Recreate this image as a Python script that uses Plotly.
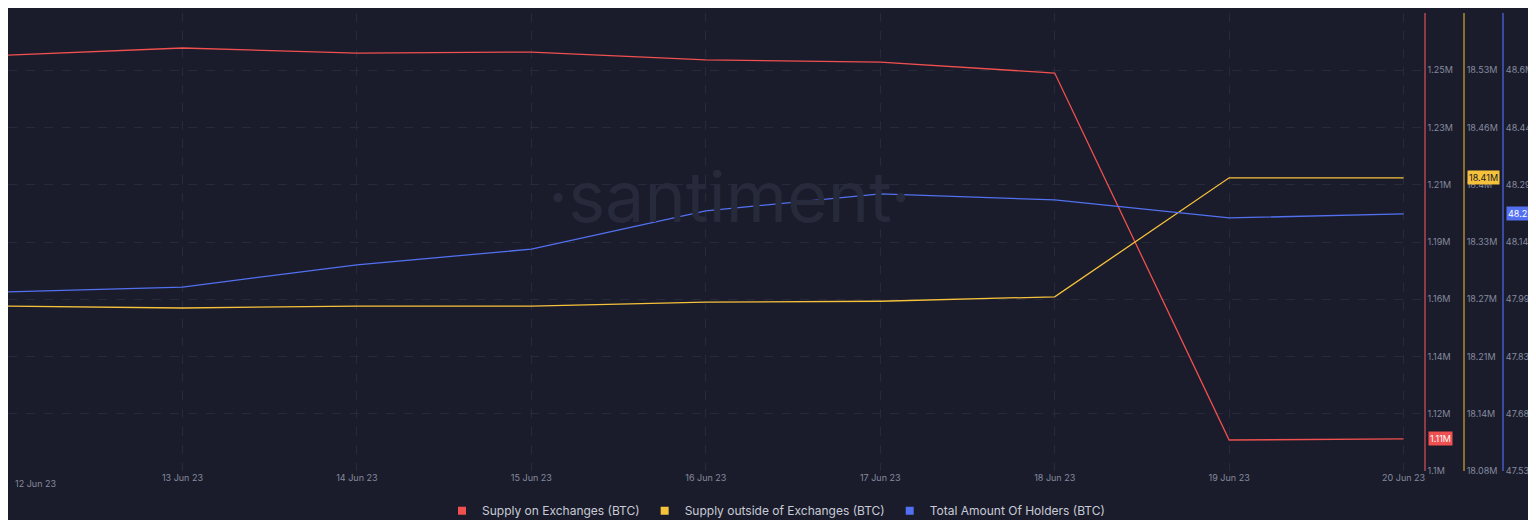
import plotly.graph_objects as go

dates = ["2023-06-12", "2023-06-13", "2023-06-14", "2023-06-15", "2023-06-16",
         "2023-06-17", "2023-06-18", "2023-06-19", "2023-06-20"]
supply_on = [1.2544, 1.2570, 1.2551, 1.2555, 1.2526, 1.2518, 1.2477, 1.1115, 1.1119]
supply_out = [18.2637, 18.2615, 18.2637, 18.2637, 18.2680, 18.2690, 18.2740, 18.4065, 18.4065]
holders = [48.007, 48.020, 48.079, 48.121, 48.223, 48.268, 48.252, 48.204, 48.215]

red_ticks = ["1.1M", "1.12M", "1.14M", "1.16M", "1.19M", "1.21M", "1.23M", "1.25M", "1.27M"]
yel_ticks = ["18.08M", "18.14M", "18.21M", "18.27M", "18.33M", "18.4M", "18.46M", "18.53M", "18.59M"]
blu_ticks = ["47.53M", "47.68M", "47.83M", "47.99M", "48.14M", "48.29M", "48.44M", "48.6M", "48.75M"]
date_labels = [d[8:] + " Jun 23" for d in dates]

RED, YEL, BLU = "#f0504f", "#f7c23b", "#5270f0"
BG = "#1a1c2b"
TXT = "#858a9e"

def vals(lo, hi, n=9):
    return [lo + (hi - lo) * i / (n - 1) for i in range(n)]

fig = go.Figure()
for ys, name, col, ax in [(supply_on, "Supply on Exchanges (BTC)", RED, "y"),
                          (supply_out, "Supply outside of Exchanges (BTC)", YEL, "y2"),
                          (holders, "Total Amount Of Holders (BTC)", BLU, "y3")]:
    fig.add_trace(go.Scatter(x=dates, y=ys, name=name, mode="lines", showlegend=False,
                             line=dict(color=col, width=1.3), yaxis=ax))
    # legend entry with square swatch
    fig.add_trace(go.Scatter(x=[None], y=[None], name=name, mode="markers", yaxis=ax,
                             marker=dict(symbol="square", size=8, color=col)))

tickfont = dict(size=9, color=TXT, family="Inter")
common = dict(showgrid=False, zeroline=False, ticks="", tickfont=tickfont,
              side="right", anchor="free", showline=True, linewidth=1.5)

fig.update_layout(
    width=1536, height=520,
    paper_bgcolor=BG, plot_bgcolor=BG,
    margin=dict(l=0, r=0, t=5, b=57, pad=0, autoexpand=False),
    font=dict(family="Inter", color="#c8cbd6"),
    xaxis=dict(domain=[0, 0.922], range=["2023-06-12", "2023-06-20 02:50"],
               tickvals=dates[1:], ticktext=date_labels[1:],
               tickfont=tickfont, showgrid=True, gridcolor="#262a3b", griddash="dash",
               zeroline=False, ticks=""),
    yaxis=dict(range=[1.1, 1.27], tickvals=vals(1.1, 1.27), ticktext=red_ticks,
               position=0.9225, linecolor="#8c3a44", showgrid=True, gridcolor="#262a3b",
               griddash="dash", **{k: v for k, v in common.items() if k != "showgrid"}),
    yaxis2=dict(range=[18.08, 18.59], tickvals=vals(18.08, 18.59), ticktext=yel_ticks,
                overlaying="y", position=0.948, linecolor="#8a6e2f", **common),
    yaxis3=dict(range=[47.53, 48.75], tickvals=vals(47.53, 48.75), ticktext=blu_ticks,
                overlaying="y", position=0.9735, linecolor="#3a4a9e", **common),
    legend=dict(orientation="h", x=0.5, xanchor="center", y=-0.055, yanchor="top",
                font=dict(size=12, color="#c8cbd6"), itemwidth=30, bgcolor="rgba(0,0,0,0)"),
)

fig.add_annotation(text=date_labels[0], xref="paper", yref="paper", x=0.003, y=-0.011,
                   xanchor="left", yanchor="top", showarrow=False, font=tickfont)
fig.add_annotation(text="·santiment·", xref="paper", yref="paper", x=0.47, y=0.6,
                   showarrow=False, font=dict(size=70, color="#262a3b", family="Inter"))
for val, ax, col, txt, fcol, xpos in [(supply_on[-1], "y", RED, "1.11M", "white", 0.9245),
                                      (supply_out[-1], "y2", YEL, "18.41M", "#1a1c2b", 0.950),
                                      (holders[-1], "y3", BLU, "48.22M", "white", 0.9755)]:
    fig.add_annotation(text=txt, xref="paper", yref=ax, x=xpos, y=val, xanchor="left",
                       showarrow=False, bgcolor=col, font=dict(size=9, color=fcol),
                       borderpad=1)

fig.write_html("out.html")
